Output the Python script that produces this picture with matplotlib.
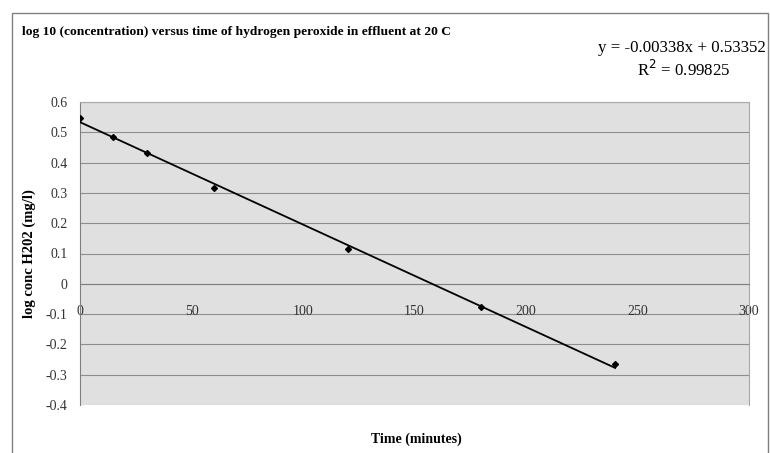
import numpy as np
import matplotlib.pyplot as plt
from matplotlib.patches import Rectangle

plt.rcParams['font.family'] = ['Liberation Serif', 'DejaVu Serif']

# data
time_min = [0, 15, 30, 60, 120, 180, 240]
log_conc = [0.548, 0.484, 0.432, 0.317, 0.116, -0.076, -0.266]
slope = -0.00338
intercept = 0.53352
r2 = 0.99825

x_ticks = [0, 50, 100, 150, 200, 250, 300]
y_ticks = [0.6, 0.5, 0.4, 0.3, 0.2, 0.1, 0, -0.1, -0.2, -0.3, -0.4]

fig = plt.figure(figsize=(7.7, 4.53), dpi=100)
fig.patches.append(Rectangle((12/770, -0.01), 756/770, 1 - 13/453 + 0.01,
                             transform=fig.transFigure, fill=False,
                             edgecolor='#808080', linewidth=1.0))

ax = fig.add_axes([80/770, 48/453, 669/770, 303/453])
ax.set_facecolor('#e0e0e0')
ax.set_xlim(0, 300)
ax.set_ylim(-0.4, 0.6)

for yv in y_ticks:
    ax.axhline(yv, color='#8e8e8e', linewidth=0.8, zorder=1)

# trend line over the data range
xf = np.array([min(time_min), max(time_min)])
ax.plot(xf, slope * xf + intercept, color='black', linewidth=1.3, zorder=3)
ax.plot(time_min, log_conc, linestyle='none', marker='D', markersize=3,
        color='black', zorder=4)

ax.spines['bottom'].set_position(('data', 0))
for s in ['top', 'right']:
    ax.spines[s].set_color('#a8a8a8')
    ax.spines[s].set_linewidth(0.8)
ax.spines['left'].set_color('#808080')
ax.spines['bottom'].set_color('#808080')

ax.set_xticks(x_ticks)
ax.set_xticklabels([str(v) for v in x_ticks])
ax.set_yticks(y_ticks)
ax.set_yticklabels([('%g' % v) for v in y_ticks])
ax.tick_params(axis='x', length=0, pad=15, labelsize=10, labelcolor='#333333')
ax.tick_params(axis='y', length=0, pad=9, labelsize=10, labelcolor='#333333')

ax.set_xlabel('Time (minutes)', fontsize=10, fontweight='bold', labelpad=0)
ax.xaxis.set_label_coords(0.503, -0.09)
ax.set_ylabel('log conc H202 (mg/l)', fontsize=10.5, fontweight='bold')
ax.yaxis.set_label_coords(-0.066, 0.5)

fig.text(22/770, 1 - 32/453,
         'log 10 (concentration) versus time of hydrogen peroxide in effluent at 20 C',
         fontsize=9.7, fontweight='bold', va='center', ha='left')
fig.text(682/770, 1 - 48/453, 'y = -0.00338x + 0.53352',
         fontsize=12.2, ha='center', va='center')
fig.text(684/770, 1 - 70/453, 'R$^{2}$ = %.5f' % r2,
         fontsize=12.2, ha='center', va='center')

fig.savefig('out.png', dpi=100)
